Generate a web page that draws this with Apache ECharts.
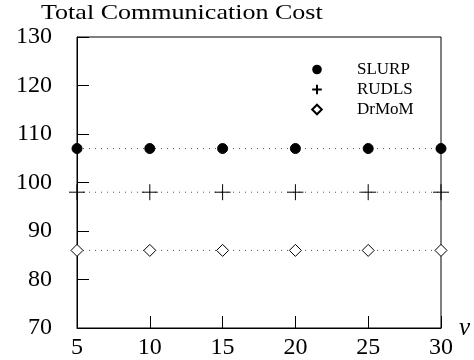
<!DOCTYPE html>
<html><head><meta charset="utf-8">
<script src="https://cdn.jsdelivr.net/npm/echarts@6/dist/echarts.min.js"></script>
<style>html,body{margin:0;padding:0;background:#fff}#c{width:474px;height:360px}</style>
</head><body><div id="c"></div>
<script>
const xValues = [5, 10, 15, 20, 25, 30];
const slurp = [107, 107, 107, 107, 107, 107];
const rudls = [98, 98, 98, 98, 98, 98];
const drmom = [86, 86, 86, 86, 86, 86];
const seriesNames = ['SLURP', 'RUDLS', 'DrMoM'];
const titleText = 'Total Communication Cost';
const xName = 'v';

const font = '"Liberation Serif", "Times New Roman", serif';
const plusPath = 'path://M0,8L16,8M8,0L8,16';
const toPairs = arr => xValues.map((x, i) => [x, arr[i]]);
const lineStyle = { color: '#555', width: 1, type: [1, 5] };

const chart = echarts.init(document.getElementById('c'), null, { renderer: 'canvas' });
chart.setOption({
  animation: false,
  backgroundColor: '#fff',
  graphic: [{
    type: 'text', left: 41, top: 3, scaleX: 1.24, originX: 0,
    style: { text: titleText, font: '21px ' + font, fill: '#000' }
  }],
  legend: {
    orient: 'vertical', left: 303, top: 56, itemGap: 3,
    itemWidth: 16, itemHeight: 12,
    lineStyle: { opacity: 0 },
    textStyle: { fontFamily: font, fontSize: 17, lineHeight: 17, color: '#000', padding: [0, 0, 0, 27] },
    data: seriesNames
  },
  grid: { left: 77, right: 33, top: 37, bottom: 30, show: true, borderColor: '#000', borderWidth: 1 },
  xAxis: {
    type: 'value', min: 5, max: 30, interval: 5,
    name: xName, nameLocation: 'end', nameGap: 14,
    nameTextStyle: { fontFamily: font, fontStyle: 'italic', fontSize: 25, color: '#000', verticalAlign: 'middle', padding: [0, 0, 4, 0] },
    axisLine: { lineStyle: { color: '#000', width: 1 } },
    axisTick: { inside: true, length: 12, lineStyle: { color: '#000' } },
    axisLabel: { fontFamily: font, fontSize: 24, color: '#000', margin: 8 },
    splitLine: { show: false }
  },
  yAxis: {
    type: 'value', min: 70, max: 130, interval: 10,
    axisLine: { show: true, lineStyle: { color: '#000', width: 1 } },
    axisTick: { show: true, inside: true, length: 12, lineStyle: { color: '#000' } },
    axisLabel: { fontFamily: font, fontSize: 24, color: '#000', margin: 25, padding: [3, 0, 0, 0] },
    splitLine: { show: false }
  },
  series: [
    { name: seriesNames[0], type: 'line', data: toPairs(slurp), symbol: 'circle', symbolSize: 10,
      itemStyle: { color: '#000', borderColor: '#000' }, lineStyle: lineStyle },
    { name: seriesNames[1], type: 'line', data: toPairs(rudls), symbol: plusPath, symbolSize: 16,
      itemStyle: { color: '#000', borderColor: '#000', borderWidth: 1 }, lineStyle: lineStyle },
    { name: seriesNames[2], type: 'line', data: toPairs(drmom), symbol: 'diamond', symbolSize: 12,
      itemStyle: { color: '#fff', borderColor: '#000', borderWidth: 1 }, lineStyle: lineStyle }
  ]
});
</script></body></html>
